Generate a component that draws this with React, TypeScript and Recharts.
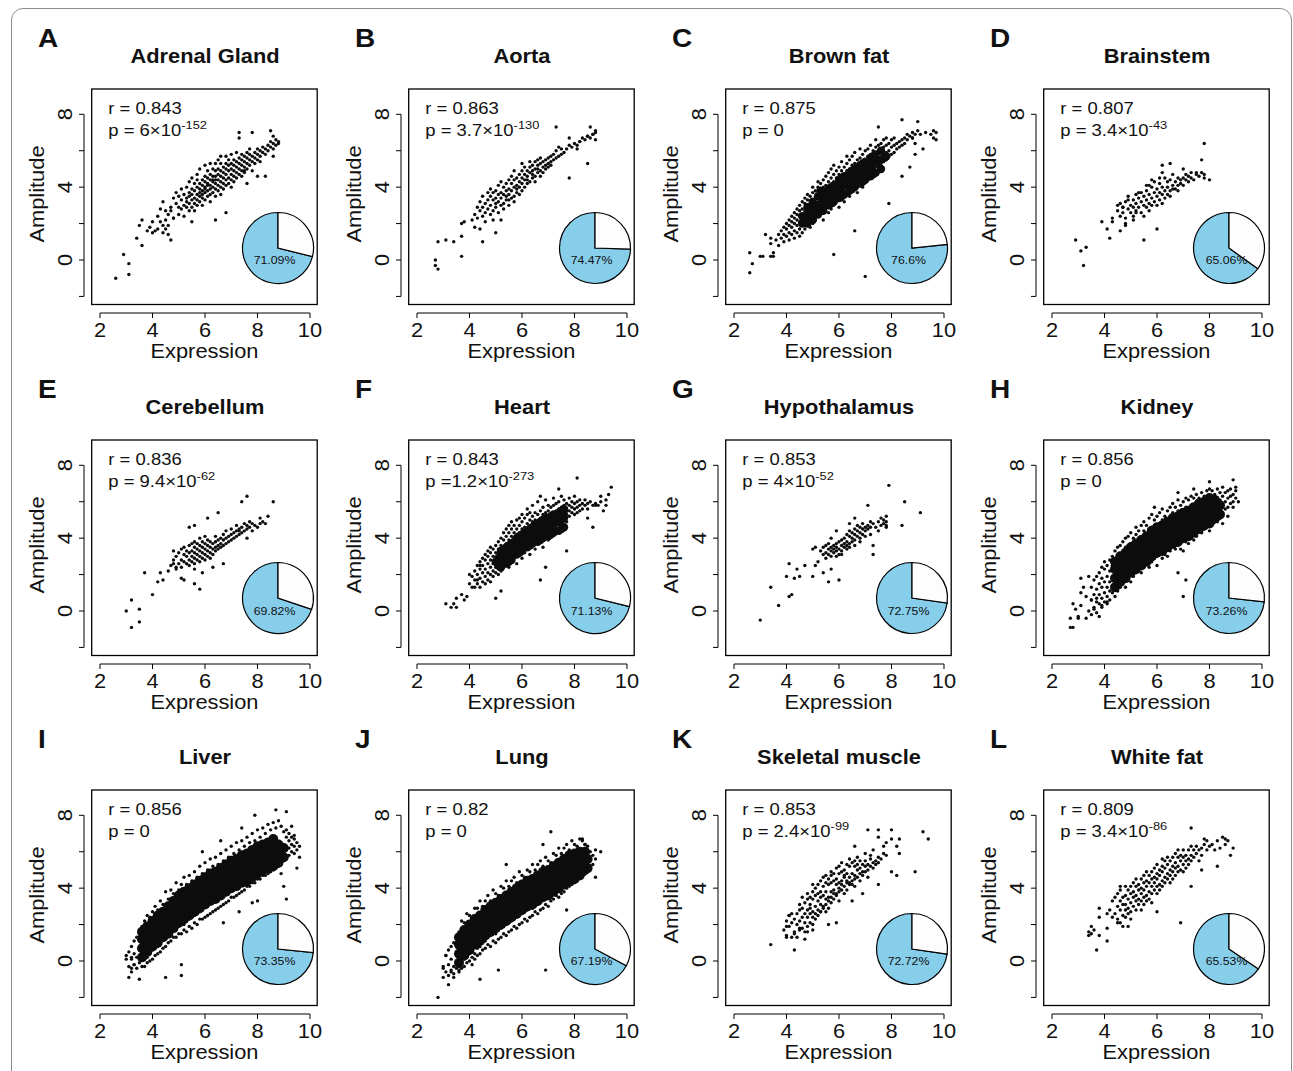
import { Cell, Pie, PieChart, ReferenceLine, Scatter, ScatterChart, XAxis, YAxis } from 'recharts'

// Points are written as "x,y" in tenths (61,42 -> x 6.1, y 4.2)
const adrenalPts = `26,-10 29,3 31,-2 31,-8 34,12 35,19 36,8 36,22 38,16 39,18 40,15 41,16 40,21 42,17 43,21 42,24 44,19 44,15 45,17 45,22 46,14 47,11 46,19 43,28 44,32 45,27 46,25 47,29 48,23 55,21 64,22 68,26 73,70 73,67 78,70 85,71 86,68 88,64 86,57 83,46 80,46 76,42 75,49
47,27 48,34 48,23 49,31 49,37 50,29 50,25 50,35 51,33 51,28 51,39 52,30 52,36 52,24 53,34 53,29 53,40 53,32 54,37 54,27 54,31 54,43 54,35 55,33 55,29 55,39 55,36 55,45 56,31 56,38 56,34 56,42 56,27 57,36 57,33 57,40 57,44 57,30 57,47 58,35 58,39 58,32 58,42 58,37 58,50 59,34 59,41 59,38 59,44 59,30 59,36 60,40 60,37 60,43 60,33 60,46 60,39 60,52 61,38 61,42 61,35 61,45 61,49 61,41 62,39 62,44 62,36 62,47 62,41 62,32 62,53 63,43 63,40 63,46 63,37 63,50 63,44 64,42 64,46 64,39 64,49 64,35 64,53 64,44 65,41 65,47 65,44 65,50 65,38 65,55 66,43 66,46 66,49 66,40 66,53 66,36 66,57 67,45 67,42 67,48 67,51 67,39 68,47 68,44 68,50 68,53 68,41 68,57 69,45 69,49 69,52 69,42 69,55 70,47 70,50 70,44 70,53 70,40 70,58 71,49 71,46 71,52 71,55 71,43 72,48 72,51 72,54 72,45 72,59 73,50 73,53 73,47 73,56 74,52 74,49 74,55 74,58 74,46 75,51 75,54 75,57 75,48 76,53 76,56 76,50 76,59 77,55 77,52 77,58 77,61 78,54 78,57 78,49 79,56 79,59 79,53 80,58 80,55 80,61 81,57 81,60 81,54 82,59 82,62 83,58 83,61 84,60 84,63 85,62 85,65 86,61 86,64 87,63 87,66 88,65`

const aortaPts = `27,0 27,-3 28,-5 28,10 31,11 34,10 37,2 37,13 37,20 38,21 41,22 42,18 44,17 45,10 50,15 78,45 85,53 73,73 86,73 88,71 87,69 85,68 88,66 82,65 81,63 78,67
42,25 43,29 43,23 44,27 44,32 45,24 45,29 45,35 46,26 46,31 46,21 47,28 47,33 47,37 48,25 48,30 48,35 48,39 49,27 49,33 49,37 49,22 50,29 50,34 50,31 50,38 51,26 51,32 51,36 51,41 52,30 52,34 52,37 52,43 52,22 53,31 53,36 53,40 53,28 54,33 54,38 54,42 54,35 55,30 55,36 55,39 55,44 55,33 56,34 56,38 56,42 56,46 57,35 57,40 57,44 57,32 57,49 58,37 58,41 58,45 58,39 59,36 59,43 59,47 59,40 60,38 60,42 60,45 60,49 60,53 61,40 61,44 61,47 61,51 62,42 62,46 62,49 62,44 63,43 63,48 63,51 63,54 64,45 64,49 64,52 64,47 65,46 65,50 65,54 65,43 66,48 66,52 66,55 66,50 67,49 67,53 67,56 67,46 68,51 68,54 68,48 69,52 69,55 69,50 70,53 70,56 70,51 71,54 71,57 71,52 72,55 72,58 73,56 73,60 74,57 74,62 75,58 75,61 76,59 77,61 78,63 79,62 80,64 81,61 82,65 83,67 84,66 85,68 86,67 87,69 88,70`

const brownFatPts = `26,4 27,-2 26,-7 30,2 31,2 34,2 35,2 35,4 32,14 34,12 34,9 58,3 70,-9 66,16 79,31 84,46 87,51 89,58 92,61 84,77 90,76 75,73 93,70 95,69 96,67 96,71 91,69 89,64 88,67 97,66 97,70
36,11 37,14 37,8 38,16 38,12 39,10 39,18 39,14 40,13 40,20 40,17 41,11 41,15 41,22 41,19 42,14 42,24 42,18 42,21 43,12 43,16 43,26 43,20 43,23 44,15 44,19 44,28 44,22 44,25 45,17 45,13 45,21 45,30 45,24 45,27 46,19 46,15 46,25 46,32 46,22 46,28 47,21 47,17 47,27 47,31 47,24 47,34 48,20 48,23 48,29 48,33 48,26 48,36 49,22 49,18 49,27 49,31 49,35 49,29 50,24 50,20 50,28 50,33 50,37 50,31 50,40 51,26 51,22 51,30 51,34 51,38 51,32 52,28 52,24 52,31 52,36 52,40 52,34 52,43 53,25 53,30 53,33 53,38 53,42 53,35 54,27 54,22 54,32 54,35 54,40 54,44 54,37 55,29 55,34 55,37 55,41 55,46 55,39 56,26 56,31 56,36 56,39 56,43 56,48 56,34 57,33 57,28 57,38 57,41 57,45 57,50 57,36 58,30 58,35 58,40 58,43 58,47 58,52 58,37 59,32 59,37 59,42 59,45 59,49 59,39 60,29 60,34 60,39 60,44 60,47 60,51 60,41 61,36 61,33 61,41 61,46 61,49 61,43 61,54 62,38 62,32 62,43 62,47 62,51 62,45 63,40 63,36 63,44 63,49 63,53 63,46 63,57 64,35 64,41 64,46 64,50 64,43 64,55 65,43 65,38 65,47 65,52 65,45 65,57 66,44 66,40 66,49 66,53 66,47 66,59 67,46 67,37 67,51 67,55 67,48 68,42 68,47 68,52 68,56 68,50 68,61 69,45 69,40 69,49 69,54 69,58 70,47 70,43 70,51 70,55 70,60 70,53 71,48 71,44 71,52 71,57 71,61 72,50 72,46 72,54 72,58 72,63 73,52 73,47 73,56 73,60 73,54 74,53 74,49 74,58 74,62 74,66 75,55 75,51 75,59 75,63 76,56 76,52 76,60 76,64 77,58 77,54 77,62 77,66 78,59 78,55 78,63 78,67 79,60 79,57 79,64 80,62 80,58 80,66 81,63 81,59 81,67 82,64 82,61 83,65 83,62 84,66 84,63 85,67 85,64 86,66 86,69 87,68 88,70 88,67 89,69 90,71`
const brownFatCore = `46,20 46,24 47,23 48,25 48,21 49,26 50,27 50,24 50,30 51,28 52,30 52,27 53,31 54,33 54,30 55,33 55,36 56,35 56,32 57,37 58,38 58,35 59,38 60,39 60,42 60,36 61,40 62,41 62,44 63,42 64,43 64,46 65,45 66,46 66,43 67,47 68,48 68,45 69,49 70,48 70,51 71,50 72,51 72,48 73,52 74,53 75,54 76,55 77,56 78,57
48,20 48,29 50,22 50,32 52,25 52,35 53,29 53,38 54,27 54,37 56,30 56,39 57,31 57,40 58,32 58,41 60,34 60,44 61,35 61,45 62,36 62,46 64,38 64,48 65,39 65,49 66,40 66,50 68,42 68,52 69,43 69,53 70,44 70,54 72,46 72,56 73,47 73,57 74,48 74,58 76,50 76,60`

const brainstemPts = `29,11 31,5 33,7 32,-3 39,21 41,17 42,12 43,23 43,21 46,16 45,30 47,29 48,20 48,19 49,33 51,22 52,26 53,37 55,11 57,41 60,17 62,52 65,53 70,50 75,48 77,55 78,64 78,45 80,44
45,27 46,24 46,31 47,29 47,26 48,23 48,32 49,28 49,35 50,26 50,30 51,33 51,29 51,24 52,31 52,27 52,36 53,34 53,29 54,32 54,26 54,37 55,30 55,35 55,24 56,33 56,38 56,29 57,31 57,36 57,27 58,34 58,40 58,30 59,37 59,32 59,43 60,35 60,30 60,39 61,37 61,33 61,42 62,36 62,40 62,31 63,38 63,34 63,45 64,40 64,36 64,43 65,38 65,44 65,35 66,41 66,39 66,47 67,43 67,39 68,41 68,45 68,38 69,44 69,42 70,45 70,41 71,44 71,47 72,43 72,46 73,45 73,48 74,44 75,47 76,46 77,48 78,47 56,41 58,44 61,45 62,48`

const cerebellumPts = `30,0 32,6 32,-9 35,1 35,-6 37,21 40,9 42,16 44,17 43,21 46,22 48,33 48,26 49,24 51,18 52,17 56,15 58,12 54,46 56,47 61,51 65,54 74,60 76,63 86,60 84,52 83,48 76,40 73,44 67,26 63,24 59,21 56,23
47,25 48,28 49,23 49,30 50,26 50,32 51,28 51,24 51,34 52,27 52,31 52,35 53,26 53,30 53,33 54,28 54,32 54,36 54,25 55,30 55,33 55,27 55,37 56,29 56,32 56,35 56,38 56,26 57,31 57,34 57,28 57,37 58,30 58,33 58,36 58,40 58,27 59,32 59,35 59,29 59,38 60,31 60,34 60,37 60,28 60,41 61,33 61,36 61,30 61,39 62,32 62,35 62,38 62,29 63,34 63,37 63,31 64,35 64,38 64,33 64,41 65,36 65,39 65,34 66,37 66,40 66,35 67,39 67,36 67,42 68,40 68,37 68,44 69,41 69,38 70,42 70,39 70,45 71,43 71,40 72,44 72,41 72,47 73,45 73,42 74,43 74,46 75,44 75,48 76,45 76,47 77,46 77,49 78,44 78,48 79,47 80,46 81,48 81,51 82,49`

const heartPts = `31,4 33,2 34,4 35,2 35,7 37,9 39,8 38,6 50,7 52,11 67,17 69,24 81,73 94,68 93,64 92,58 87,46 85,51 77,33 74,67 67,63 40,20 42,13 43,17 44,25 92,61 91,55 90,63 88,58
40,15 41,19 41,13 42,17 42,22 43,15 43,20 43,25 44,18 44,13 44,23 44,27 45,16 45,21 45,25 45,29 46,19 46,23 46,15 46,28 46,31 47,21 47,17 47,26 47,30 47,33 48,20 48,24 48,28 48,16 48,32 48,35 49,22 49,26 49,30 49,34 49,19 50,24 50,28 50,21 50,32 50,36 51,26 51,23 51,30 51,34 51,38 51,20 52,25 52,29 52,32 52,36 52,40 52,22 53,27 53,31 53,24 53,35 53,39 53,43 54,29 54,26 54,33 54,37 54,41 54,45 55,31 55,27 55,35 55,39 55,24 55,43 55,47 56,30 56,34 56,37 56,41 56,27 56,45 56,49 57,32 57,36 57,29 57,40 57,43 57,47 58,34 58,31 58,38 58,42 58,45 58,26 58,50 59,35 59,39 59,32 59,43 59,47 59,51 60,37 60,34 60,41 60,45 60,29 60,49 60,53 61,39 61,36 61,43 61,46 61,32 61,51 62,38 62,41 62,44 62,48 62,34 62,53 62,56 63,40 63,43 63,37 63,47 63,50 63,31 63,54 64,42 64,39 64,45 64,49 64,52 64,36 64,58 65,44 65,41 65,47 65,50 65,34 65,54 66,43 66,46 66,40 66,49 66,53 66,37 66,60 67,45 67,48 67,42 67,51 67,55 67,38 68,46 68,49 68,44 68,53 68,57 68,35 69,48 69,51 69,45 69,54 69,41 69,61 70,49 70,52 70,46 70,55 70,58 70,39 71,50 71,53 71,47 71,57 71,43 72,51 72,54 72,48 72,58 72,62 73,52 73,55 73,49 73,45 73,59 74,53 74,56 74,50 74,60 75,54 75,51 75,57 75,47 75,63 76,55 76,52 76,58 76,61 77,56 77,53 77,59 77,49 78,55 78,58 78,52 78,62 79,57 79,54 79,60 80,56 80,59 80,53 80,63 81,57 81,60 81,54 82,58 82,61 82,55 83,59 83,56 84,58 84,61 85,59 85,56 86,60 87,58 88,59 89,58 90,60`
const heartCore = `50,27 51,29 52,31 52,27 53,32 54,34 54,30 55,35 56,37 56,33 57,38 58,39 58,36 59,41 60,41 60,38 61,43 62,44 62,41 63,45 64,46 64,43 65,47 66,48 66,45 67,49 68,50 68,47 69,51 70,51 70,49 71,52 72,53 73,53 74,54 75,55 76,56
52,24 52,33 54,26 54,35 55,27 55,36 56,28 56,37 58,31 58,40 59,32 59,41 60,33 60,42 62,35 62,44 63,36 63,45 64,37 64,46 66,38 66,47 67,39 67,48 68,40 68,49 70,41 70,50 71,42 71,51 72,43 72,52 74,44 74,53 75,45 75,54 76,46 76,55
51,25 53,28 54,29 55,31 56,31 57,33 58,34 59,36 60,36 61,38 62,38 63,40 64,40 65,42 66,42 67,44 68,44 69,46 70,45 71,47 72,47 73,49 74,49 75,50 76,51`

const hypothalamusPts = `30,-5 34,13 37,3 41,8 42,9 40,19 41,26 43,18 44,23 45,19 47,25 50,19 51,25 50,34 51,35 52,27 54,21 56,16 57,23 60,17 57,40 59,44 64,48 66,51 71,58 79,69 85,60 91,54 84,47 78,46 73,31 73,36
53,33 54,31 54,35 55,32 55,29 55,36 56,34 56,31 56,37 57,33 57,30 57,35 58,36 58,32 58,34 59,37 59,33 59,35 60,38 60,34 60,31 61,36 61,39 61,33 62,37 62,40 62,35 63,38 63,42 63,36 64,41 64,37 64,44 65,40 65,43 65,38 66,42 66,45 66,39 67,44 67,41 67,47 68,43 68,46 68,40 69,45 69,48 69,42 70,46 70,44 71,47 71,45 72,49 72,46 73,48 74,46 75,49 76,47 76,51 77,48 77,50 78,49 78,52 78,47 68,38 66,36 63,34 70,41 72,42 75,44 64,35 61,31 59,30`

const kidneyPts = `27,-9 28,-9 27,-4 30,-4 30,-3 29,1 28,4 31,3 33,-4 34,0 36,1 38,-3 39,3 31,18 34,19 31,10 33,8 41,5 70,8 71,17 68,21 80,71 89,72 90,68 91,60 89,57 87,52 85,48 74,67 68,65 59,57 32,13 35,6 37,7
35,-2 35,6 35,13 36,2 36,9 36,17 37,-1 37,5 37,12 37,19 38,4 38,9 38,15 38,21 39,2 39,7 39,13 39,18 39,24 40,5 40,10 40,16 40,23 40,27 41,4 41,8 41,13 41,19 41,25 42,6 42,11 42,16 42,22 42,28 43,10 43,14 43,19 43,25 43,30 44,8 44,12 44,17 44,23 44,28 44,33 45,11 45,16 45,21 45,27 45,35 46,13 46,18 46,24 46,30 46,36 47,15 47,20 47,26 47,32 47,38 48,13 48,19 48,23 48,29 48,35 48,40 49,18 49,22 49,27 49,33 49,41 50,16 50,21 50,25 50,31 50,37 50,43 51,19 51,24 51,28 51,34 51,40 52,21 52,26 52,30 52,36 52,42 52,46 53,23 53,27 53,33 53,39 53,44 54,21 54,25 54,30 54,35 54,41 54,47 55,24 55,29 55,34 55,38 55,44 55,49 56,26 56,31 56,36 56,42 56,47 57,24 57,28 57,33 57,39 57,45 57,51 58,27 58,31 58,35 58,41 58,46 58,53 59,29 59,33 59,38 59,44 59,50 60,25 60,30 60,35 60,40 60,46 60,52 61,31 61,37 61,42 61,48 61,54 62,29 62,33 62,39 62,45 62,50 62,56 63,31 63,36 63,41 63,47 63,52 64,30 64,34 64,38 64,44 64,49 64,55 65,33 65,37 65,42 65,46 65,51 65,57 66,35 66,39 66,44 66,49 66,54 66,59 67,34 67,38 67,42 67,47 67,52 67,57 68,36 68,40 68,45 68,50 68,55 68,61 69,34 69,38 69,43 69,48 69,53 69,58 70,33 70,40 70,45 70,50 70,55 70,60 71,38 71,43 71,47 71,52 71,57 71,62 72,37 72,41 72,46 72,50 72,55 72,61 73,40 73,44 73,48 73,53 73,58 73,63 74,39 74,43 74,47 74,52 74,57 74,62 75,41 75,46 75,50 75,55 75,60 75,64 76,44 76,48 76,53 76,57 76,62 77,43 77,47 77,51 77,56 77,60 77,65 78,45 78,50 78,54 78,59 78,63 79,47 79,52 79,56 79,61 79,66 80,44 80,49 80,54 80,58 80,63 80,67 81,48 81,53 81,57 81,62 81,66 82,50 82,55 82,60 82,64 83,49 83,53 83,58 83,62 83,67 84,52 84,56 84,61 84,65 85,54 85,58 85,63 85,68 86,56 86,60 86,65 87,57 87,62 87,66 88,59 88,63 88,67 89,60 89,64 90,62 90,66`
const kidneyCore = `44,13 44,18 44,23 44,27 45,17 45,22 45,26 46,16 46,20 46,25 46,30 47,19 47,24 47,29 48,18 48,23 48,28 48,32 49,22 49,27 49,32 50,21 50,26 50,31 50,35 51,24 51,29 51,34 52,23 52,28 52,33 52,37 53,26 53,31 53,36 54,25 54,30 54,35 54,39 55,28 55,33 55,38 56,27 56,32 56,37 56,41 57,30 57,35 57,40 58,30 58,34 58,39 58,44 59,33 59,38 59,43 60,32 60,36 60,41 60,46 61,35 61,40 61,45 62,33 62,38 62,43 62,47 63,36 63,41 63,46 64,35 64,40 64,45 64,49 65,38 65,43 65,48 66,37 66,41 66,46 66,51 67,39 67,44 67,49 68,38 68,43 68,48 68,52 69,41 69,46 69,51 70,40 70,44 70,49 70,54 71,42 71,47 71,52 72,41 72,46 72,51 72,55 73,44 73,49 73,54 74,43 74,48 74,53 74,57 75,46 75,51 75,56 76,45 76,49 76,54 76,59 77,47 77,52 77,57 78,47 78,51 78,56 78,60 79,49 79,54 79,59 80,48 80,53 80,58 80,62 81,50 81,55 81,60 82,52 82,57 82,61 83,52 83,57 84,53 84,58`

const liverPts = `31,-9 35,-10 32,-4 30,1 33,-2 45,-9 51,-8 51,-2 67,21 73,27 78,32 80,33 91,34 90,41 89,48 79,80 87,83 91,82 93,74 94,69 96,57 95,51 74,73 66,66 59,60 30,3 32,2
31,-3 31,5 32,-6 32,1 32,8 33,-2 33,4 33,11 34,-4 34,2 34,13 35,-1 35,6 35,15 36,-3 36,1 36,19 37,1 37,-3 37,22 38,2 38,-1 38,25 39,0 39,4 39,24 40,1 40,6 40,27 41,3 41,7 41,30 42,4 42,8 42,28 43,5 43,10 43,33 44,7 44,12 44,31 45,8 45,12 45,38 46,10 46,15 46,34 47,11 47,16 47,39 48,13 48,18 48,37 49,13 49,18 49,43 50,15 50,19 50,39 51,15 51,21 51,42 52,17 52,20 52,46 53,16 53,22 53,42 54,19 54,23 54,47 55,18 55,24 55,44 56,21 56,25 56,49 57,20 57,26 57,46 58,23 58,27 58,52 59,23 59,28 59,48 60,24 60,30 60,54 61,25 61,30 61,50 62,26 62,32 62,56 63,27 63,32 63,52 64,28 64,34 64,57 65,29 65,34 65,53 66,30 66,36 66,59 67,31 67,36 67,55 68,32 68,38 68,61 69,33 69,38 69,57 70,35 70,40 70,63 71,35 71,40 71,59 72,36 72,42 72,65 73,37 73,42 73,61 74,38 74,44 74,66 75,39 75,44 75,63 76,41 76,46 76,68 77,41 77,46 77,65 78,43 78,48 78,70 79,43 79,48 79,66 80,45 80,50 80,72 81,45 81,50 81,68 82,47 82,52 82,73 83,47 83,52 83,70 84,48 84,54 84,75 85,49 85,54 85,72 86,50 86,56 86,76 87,51 87,56 87,73 88,52 88,58 88,77 89,53 89,58 89,74 90,55 90,60 90,71 91,57 91,61 91,68 91,72 92,58 92,62 92,66 92,70 93,60 93,64 93,68 94,59 94,63 94,67 95,61 95,65 96,63`
const liverCore = `36,2 36,7 36,12 36,16 37,6 37,11 37,16 38,5 38,10 38,15 38,19 39,8 39,13 39,18 40,8 40,12 40,17 40,22 41,11 41,16 41,21 42,10 42,15 42,20 42,25 43,14 43,19 43,24 44,13 44,18 44,22 44,27 45,17 45,22 45,27 46,15 46,20 46,25 46,30 47,20 47,25 47,30 48,18 48,23 48,28 48,33 49,22 49,27 49,32 50,21 50,26 50,31 50,36 51,25 51,30 51,35 52,23 52,28 52,33 52,38 53,27 53,32 53,37 54,25 54,30 54,35 54,40 55,29 55,34 55,39 56,27 56,32 56,37 56,42 57,31 57,36 57,41 58,29 58,34 58,39 58,44 59,33 59,38 59,43 60,31 60,36 60,41 60,46 61,35 61,40 61,45 62,33 62,38 62,43 62,48 63,36 63,41 63,46 64,34 64,40 64,45 64,49 65,38 65,43 65,48 66,36 66,42 66,46 66,51 67,40 67,45 67,50 68,38 68,43 68,48 68,53 69,42 69,47 69,52 70,40 70,45 70,50 70,55 71,43 71,48 71,53 72,41 72,46 72,51 72,56 73,45 73,50 73,55 74,43 74,48 74,53 74,58 75,46 75,51 75,56 76,44 76,49 76,54 76,59 77,48 77,53 77,58 78,46 78,51 78,56 78,61 79,50 79,55 79,60 80,48 80,53 80,58 80,63 81,51 81,56 81,61 82,50 82,55 82,60 82,64 83,53 83,58 83,63 84,51 84,56 84,61 84,65 85,54 85,59 85,64 86,52 86,57 86,62 86,67 87,56 87,61 88,54 88,59 88,64 89,57 89,62 90,57 90,62`

const lungPts = `28,-20 32,-13 34,-9 44,-10 51,-5 69,-5 71,71 68,64 77,28 88,46 90,60 86,51 83,67 84,64 54,53 31,3 30,-3 33,-6 36,-5 41,-2
30,-9 30,-4 31,-6 31,3 32,-8 32,-2 32,6 33,-5 33,1 33,8 34,-3 34,10 34,-7 35,-4 35,12 36,-6 36,-3 36,16 37,-4 37,0 37,22 38,-3 38,1 38,21 39,-1 39,2 39,26 40,0 40,4 40,25 41,2 41,5 41,24 42,1 42,4 42,29 43,3 43,7 43,29 44,4 44,8 44,33 45,6 45,10 45,30 46,7 46,11 46,33 47,9 47,13 47,36 48,8 48,14 48,33 49,11 49,15 49,39 50,10 50,15 50,37 51,12 51,17 51,36 52,13 52,18 52,41 53,15 53,19 53,40 54,14 54,20 54,44 55,16 55,21 55,41 56,17 56,22 56,44 57,19 57,23 57,46 58,18 58,24 58,43 59,20 59,25 59,49 60,21 60,26 60,47 61,23 61,27 61,46 62,22 62,28 62,50 63,24 63,29 63,49 64,25 64,29 64,53 65,27 65,31 65,50 66,26 66,31 66,53 67,28 67,33 67,55 68,29 68,34 68,52 69,31 69,35 69,57 70,30 70,35 70,55 71,33 71,37 71,54 72,34 72,38 72,59 73,36 73,40 73,58 74,35 74,40 74,62 75,37 75,42 75,59 76,38 76,43 76,62 77,40 77,44 77,64 78,41 78,45 78,61 79,42 79,46 79,66 80,43 80,47 80,64 81,44 81,49 81,63 82,46 82,50 82,67 83,47 83,51 83,66 84,48 84,52 84,64 85,50 85,54 85,63 86,51 86,55 86,60 87,53 87,58 88,56 88,61`
const lungCore = `36,-1 36,4 36,9 36,13 37,3 37,8 37,13 38,3 38,7 38,12 38,17 39,6 39,11 39,16 40,6 40,10 40,15 40,20 41,9 41,14 41,19 42,9 42,13 42,18 42,23 43,12 43,17 43,22 44,11 44,16 44,21 44,25 45,14 45,19 45,24 46,14 46,18 46,23 46,28 47,17 47,22 47,27 48,16 48,21 48,26 48,30 49,19 49,24 49,29 50,18 50,23 50,28 50,32 51,21 51,26 51,31 52,20 52,25 52,30 52,34 53,23 53,28 53,33 54,22 54,27 54,32 54,36 55,25 55,30 55,35 56,24 56,29 56,34 56,38 57,27 57,32 57,37 58,26 58,31 58,36 58,40 59,29 59,34 59,39 60,28 60,33 60,38 60,42 61,31 61,36 61,41 62,30 62,34 62,39 62,44 63,32 63,37 63,42 64,31 64,36 64,41 64,45 65,34 65,39 65,44 66,33 66,38 66,43 66,47 67,36 67,41 67,46 68,35 68,39 68,44 68,49 69,37 69,42 69,47 70,36 70,41 70,46 70,50 71,39 71,44 71,49 72,38 72,43 72,48 72,52 73,41 73,46 73,51 74,40 74,45 74,50 74,54 75,43 75,48 75,53 76,42 76,47 76,52 76,56 77,45 77,50 77,55 78,44 78,48 78,53 78,58 79,46 79,51 79,56 80,45 80,50 80,55 80,59 81,48 81,53 81,58 82,47 82,51 82,56 82,60 83,49 83,54 83,59 84,50 84,55 84,60 85,51 85,56`

const musclePts = `34,9 40,13 40,19 41,25 43,6 43,15 45,18 47,12 48,16 50,17 49,29 50,42 53,27 56,20 59,21 69,37 65,33 71,72 75,72 75,68 80,72 80,67 83,67 82,63 83,59 66,63 80,49 82,47 89,49 92,71 94,67 75,42
39,17 40,22 40,14 41,19 41,25 42,13 42,21 42,26 43,16 43,23 44,20 44,13 44,26 45,22 45,28 45,17 45,31 46,24 46,18 46,29 46,35 47,21 47,26 47,32 47,16 48,24 48,28 48,34 48,19 48,37 49,26 49,31 49,21 49,35 50,27 50,34 50,24 50,38 50,20 51,30 51,26 51,36 51,40 51,23 52,28 52,33 52,37 52,25 52,42 53,31 53,35 53,38 53,27 53,44 54,30 54,36 54,29 54,41 54,46 55,34 55,31 55,38 55,43 55,27 55,47 56,35 56,33 56,42 56,45 56,29 57,38 57,35 57,43 57,47 57,32 57,49 58,39 58,37 58,44 58,48 58,34 59,42 59,37 59,45 59,51 59,36 60,43 60,40 60,48 60,38 60,52 60,33 61,44 61,42 61,49 61,39 61,54 62,46 62,47 62,41 62,50 62,37 63,44 63,48 63,43 63,53 63,39 64,46 64,43 64,52 64,42 64,56 65,44 65,48 65,42 65,54 66,47 66,52 66,45 66,55 66,41 67,50 67,46 67,53 67,57 68,48 68,51 68,44 68,55 69,49 69,53 69,47 70,52 70,49 70,55 70,59 71,50 71,53 71,46 72,52 72,56 72,58 73,54 73,51 73,61 74,55 74,53 75,54 75,57 76,56 77,59 77,63 78,58 78,65`

const whiteFatPts = `34,16 34,14 35,19 37,6 38,14 41,11 41,18 38,29 41,26 43,24 45,21 47,19 49,19 46,41 69,21 73,73 78,67 86,67 89,62 88,58 83,52 77,50 73,41 60,27 36,17 35,15 38,24
42,28 43,33 44,26 44,35 45,30 45,23 45,37 46,28 46,33 46,21 46,39 47,31 47,35 47,25 48,31 48,28 48,36 48,24 48,41 49,29 49,34 49,39 49,26 50,32 50,37 50,27 50,41 50,23 51,35 51,30 51,38 51,43 52,33 52,36 52,28 52,41 52,45 53,34 53,39 53,31 53,42 54,37 54,33 54,40 54,45 54,28 55,39 55,35 55,43 55,47 55,31 56,36 56,41 56,44 56,33 56,49 57,38 57,43 57,34 57,47 58,41 58,45 58,37 58,49 58,32 59,43 59,39 59,46 59,51 60,45 60,41 60,48 60,37 60,53 61,42 61,47 61,50 61,39 62,44 62,49 62,41 62,52 62,56 63,46 63,51 63,43 63,55 64,48 64,45 64,53 64,57 65,47 65,50 65,55 65,43 66,49 66,52 66,57 66,45 67,51 67,54 67,47 67,59 68,52 68,49 68,57 68,61 69,50 69,55 69,58 70,53 70,57 70,49 70,61 71,55 71,58 71,51 72,56 72,53 72,61 73,58 73,55 73,63 74,57 74,61 75,59 75,63 76,55 76,61 77,62 77,58 78,64 79,61 79,66 80,63 81,64 82,61 83,66 84,62 85,68 86,64 87,66`

// Panel labels and statistics
const letters = ['A', 'B', 'C', 'D', 'E', 'F', 'G', 'H', 'I', 'J', 'K', 'L']
const tissues = ['Adrenal Gland', 'Aorta', 'Brown fat', 'Brainstem', 'Cerebellum', 'Heart', 'Hypothalamus', 'Kidney', 'Liver', 'Lung', 'Skeletal muscle', 'White fat']
const rTexts = ['r = 0.843', 'r = 0.863', 'r = 0.875', 'r = 0.807', 'r = 0.836', 'r = 0.843', 'r = 0.853', 'r = 0.856', 'r = 0.856', 'r = 0.82', 'r = 0.853', 'r = 0.809']
const pTexts = ['p = 6×10', 'p = 3.7×10', 'p = 0', 'p = 3.4×10', 'p = 9.4×10', 'p =1.2×10', 'p = 4×10', 'p = 0', 'p = 0', 'p = 0', 'p = 2.4×10', 'p = 3.4×10']
const pExps = ['-152', '-130', '', '-43', '-62', '-273', '-52', '', '', '', '-99', '-86']
const piePct = [71.09, 74.47, 76.6, 65.06, 69.82, 71.13, 72.75, 73.26, 73.35, 67.19, 72.72, 65.53]
const pieLabels = ['71.09%', '74.47%', '76.6%', '65.06%', '69.82%', '71.13%', '72.75%', '73.26%', '73.35%', '67.19%', '72.72%', '65.53%']

const dotSets = [adrenalPts, aortaPts, brownFatPts, brainstemPts, cerebellumPts, heartPts, hypothalamusPts, kidneyPts, liverPts, lungPts, musclePts, whiteFatPts]
const coreSets = ['', '', brownFatCore, '', '', heartCore, '', kidneyCore, liverCore, lungCore, '', '']
const coreRadius = [0, 0, 4.2, 0, 0, 4.2, 0, 5, 5, 5, 0, 0]

const xTicks = [2, 4, 6, 8, 10]
const yTicks = [-2, 0, 2, 4, 6, 8]
const yLabelTicks = [0, 4, 8]

const toPoints = (s: string) =>
  s.trim() === ''
    ? []
    : s
        .trim()
        .split(/\s+/)
        .map(t => {
          const [a, b] = t.split(',')
          return { x: Number(a) / 10, y: Number(b) / 10 }
        })

// layout (px)
const PW = 317
const PH = 351
const COL_LEFT = [10, 327.2, 644.4, 961.6]
const ROW_TOP = [18, 368.5, 719]
const X_MIN = 1.3905
const X_MAX = 10.2743
const Y_MIN = -2.9105
const Y_MAX = 9.3894
const PIE_CX = 267.5
const PIE_CY = 229.7
const PIE_R = 35.5
const FONT = '"Liberation Sans", Arial, Helvetica, sans-serif'
const SX = 1.12

const T = ({ x, y, size, bold, anchor = 'start', rotate = 0, children }: any) => (
  <text
    transform={`translate(${x},${y}) rotate(${rotate}) scale(${SX},1)`}
    fontSize={size}
    fontWeight={bold ? 700 : 400}
    textAnchor={anchor}
    fontFamily={FONT}
    fill="#111"
  >
    {children}
  </text>
)

const XTick = (p: any) => (
  <g>
    <line x1={p.x} x2={p.x} y1={p.y} y2={p.y + 5} stroke="#000" strokeWidth={1} />
    <T x={p.x} y={p.y + 24} size={19.5} anchor="middle">
      {p.payload.value}
    </T>
  </g>
)

const YTick = (p: any) => {
  const v = p.payload.value
  return (
    <g>
      <line x1={p.x - 5} x2={p.x} y1={p.y} y2={p.y} stroke="#000" strokeWidth={1} />
      {yLabelTicks.includes(v) && (
        <T x={p.x - 12} y={p.y} size={19.5} anchor="middle" rotate={-90}>
          {v}
        </T>
      )}
    </g>
  )
}

const Dot = (r: number) => (p: any) => <circle cx={p.cx} cy={p.cy} r={r} fill="#0d0d0d" />

const Panel = ({ i }: { i: number }) => {
  const left = COL_LEFT[i % 4]
  const top = ROW_TOP[Math.floor(i / 4)]
  const dots = toPoints(dotSets[i])
  const core = toPoints(coreSets[i])
  const pieData = [{ v: piePct[i] }, { v: 100 - piePct[i] }]
  return (
    <div style={{ position: 'absolute', left, top, width: PW, height: PH }}>
      <ScatterChart width={PW} height={PH} margin={{ top: 71, right: 9.8, bottom: 0, left: 0 }}>
        <XAxis
          type="number"
          dataKey="x"
          domain={[X_MIN, X_MAX]}
          allowDataOverflow
          ticks={xTicks}
          interval={0}
          height={56}
          axisLine={false}
          tickLine={false}
          tickSize={0}
          tickMargin={0}
          tick={(p: any) => <XTick {...p} />}
        />
        <YAxis
          type="number"
          dataKey="y"
          domain={[Y_MIN, Y_MAX]}
          allowDataOverflow
          ticks={yTicks}
          interval={0}
          width={74}
          axisLine={false}
          tickLine={false}
          tickSize={0}
          tickMargin={0}
          tick={(p: any) => <YTick {...p} />}
        />
        <ReferenceLine segment={[{ x: 2, y: Y_MIN }, { x: 10, y: Y_MIN }]} stroke="#000" ifOverflow="visible" />
        <ReferenceLine segment={[{ x: X_MIN, y: -2 }, { x: X_MIN, y: 8 }]} stroke="#000" ifOverflow="visible" />
        {core.length > 0 && <Scatter data={core} isAnimationActive={false} shape={Dot(coreRadius[i])} />}
        <Scatter data={dots} isAnimationActive={false} shape={Dot(1.7)} />
      </ScatterChart>
      <svg width={PW} height={PH} style={{ position: 'absolute', left: 0, top: 0, overflow: 'visible', pointerEvents: 'none' }}>
        <rect x={81.7} y={71} width={225.5} height={215.5} fill="none" stroke="#000" strokeWidth={1.3} />
        <T x={28} y={28.7} size={25} bold>
          {letters[i]}
        </T>
        <T x={195} y={45.3} size={19.5} bold anchor="middle">
          {tissues[i]}
        </T>
        <T x={98.3} y={95.7} size={16.5}>
          {rTexts[i]}
        </T>
        <T x={98.3} y={117.7} size={16.5}>
          {pTexts[i]}
          {pExps[i] && (
            <tspan fontSize={11.5} dy={-7}>
              {pExps[i]}
            </tspan>
          )}
        </T>
        <T x={34} y={176} size={19.5} anchor="middle" rotate={-90}>
          Amplitude
        </T>
        <T x={194.5} y={340.3} size={19.5} anchor="middle">
          Expression
        </T>
      </svg>
      <div style={{ position: 'absolute', left: PIE_CX - 40, top: PIE_CY - 40, width: 80, height: 80 }}>
        <PieChart width={80} height={80} margin={{ top: 0, right: 0, bottom: 0, left: 0 }}>
          <Pie
            data={pieData}
            dataKey="v"
            cx={40}
            cy={40}
            outerRadius={PIE_R}
            startAngle={90}
            endAngle={450}
            stroke="#000"
            strokeWidth={1.2}
            isAnimationActive={false}
          >
            <Cell fill="#87CEEB" />
            <Cell fill="#FDFDFD" />
          </Pie>
        </PieChart>
      </div>
      <svg width={PW} height={PH} style={{ position: 'absolute', left: 0, top: 0, overflow: 'visible', pointerEvents: 'none' }}>
        <T x={PIE_CX - 3} y={PIE_CY + 16.5} size={11} anchor="middle">
          {pieLabels[i]}
        </T>
      </svg>
    </div>
  )
}

export default function App() {
  return (
    <div style={{ position: 'absolute', left: 0, top: 0, width: 1293, height: 1071, overflow: 'hidden', background: '#fff' }}>
      <div
        style={{
          position: 'absolute',
          left: 11,
          top: 8,
          width: 1281,
          height: 1100,
          border: '1.5px solid #8c8c8c',
          borderRadius: 12,
          boxSizing: 'border-box',
        }}
      />
      {letters.map((_, i) => (
        <Panel key={i} i={i} />
      ))}
    </div>
  )
}
